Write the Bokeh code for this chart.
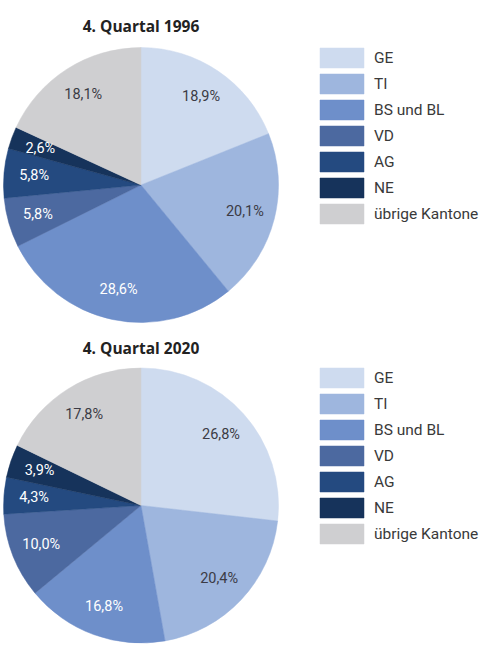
import math

from bokeh.core.properties import value
from bokeh.embed import file_html
from bokeh.models import ColumnDataSource, Label, Legend, LegendItem, Range1d
from bokeh.plotting import figure
from bokeh.resources import INLINE

# Shares by canton, in percent, for the two quarters
cantons = ["GE", "TI", "BS und BL", "VD", "AG", "NE", "übrige Kantone"]
shares_1996 = [18.9, 20.1, 28.6, 5.8, 5.8, 2.6, 18.1]
shares_2020 = [26.8, 20.4, 16.8, 10.0, 4.3, 3.9, 17.8]
titles = ["4. Quartal 1996", "4. Quartal 2020"]

colors = ["#cedbef", "#9eb6de", "#6e8fca", "#4c69a0", "#244a80", "#16335b", "#cfcfd1"]
label_colors = ["#3b3b45", "#3b3b45", "#ffffff", "#ffffff", "#ffffff", "#ffffff", "#3b3b45"]

W, H = 500, 658
p = figure(width=W, height=H, output_backend="svg", toolbar_location=None,
           x_range=Range1d(0, W), y_range=Range1d(0, H), min_border=0,
           background_fill_color="white", border_fill_color="white")
p.axis.visible = False
p.grid.visible = False
p.outline_line_color = None

R = 137.5
panels = [
    dict(shares=shares_1996, title=titles[0], cx=140.5, cy=H - 184.5, ty=H - 25, legend_y=432),
    dict(shares=shares_2020, title=titles[1], cx=140.5, cy=H - 505, ty=H - 347, legend_y=112),
]

for panel in panels:
    shares = panel["shares"]
    total = sum(shares)
    starts, ends, lx, ly, texts = [], [], [], [], []
    cum = 0.0
    for s in shares:
        a0 = math.pi / 2 - 2 * math.pi * cum / total
        a1 = math.pi / 2 - 2 * math.pi * (cum + s) / total
        mid = (a0 + a1) / 2
        starts.append(a0)
        ends.append(a1)
        lx.append(panel["cx"] + 0.78 * R * math.cos(mid))
        ly.append(panel["cy"] + 0.78 * R * math.sin(mid))
        texts.append(f"{s:.1f}".replace(".", ",") + "%")
        cum += s

    src = ColumnDataSource(dict(
        x=[panel["cx"]] * len(shares), y=[panel["cy"]] * len(shares),
        start=starts, end=ends, color=colors, canton=cantons,
        lx=lx, ly=ly, text=texts, tcolor=label_colors,
    ))
    wedges = p.wedge(x="x", y="y", radius=R, start_angle="start", end_angle="end",
                     direction="clock", fill_color="color", line_color="color",
                     line_width=0.5, source=src)
    p.text(x="lx", y="ly", text="text", text_color="tcolor", source=src,
           text_font=value("Roboto"), text_font_size="14.5px",
           text_align="center", text_baseline="middle")

    p.add_layout(Label(x=panel["cx"], y=panel["ty"], text=panel["title"],
                       text_font="Open Sans", text_font_style="bold",
                       text_font_size="15.5px", text_color="#222222",
                       text_align="center", text_baseline="middle"))

    # area legend glyphs are inset by 10% on each side, so the item box is
    # a little larger than the visible swatch
    legend = Legend(
        items=[LegendItem(label=c, renderers=[wedges], index=i) for i, c in enumerate(cantons)],
        location=(314, panel["legend_y"]), orientation="vertical",
        glyph_width=55, glyph_height=25, spacing=1, label_standoff=5,
        padding=0, margin=0, border_line_color=None, background_fill_alpha=0,
        label_text_font="Roboto", label_text_font_size="15.5px",
        label_text_color="#3a3a3a", label_height=25,
    )
    p.add_layout(legend)

open("out.html", "w").write(file_html(p, INLINE))
